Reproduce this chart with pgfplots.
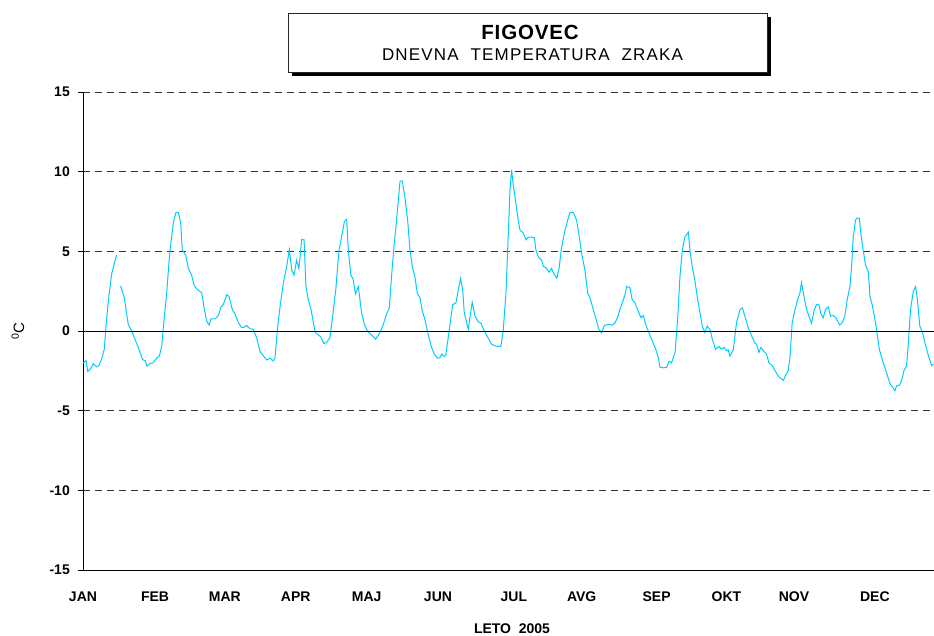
\documentclass[border=0pt]{standalone}
\usepackage{fontspec}
\setmainfont{Liberation Sans}
\usepackage{pgfplots}
\pgfplotsset{compat=1.18}
\definecolor{linecyan}{RGB}{0,204,255}
\begin{document}
\begin{tikzpicture}
\begin{axis}[
  at={(0,0)}, anchor=south west,
  scale only axis, width=851pt, height=478pt,
  xmin=0.57, xmax=366, ymin=-15, ymax=15,
  axis lines*=left,
  axis line style={black, line width=0.8pt},
  ytick={-15,-10,...,15},
  xtick={0.57,31.5,61.5,91.9,122.4,153,185.6,214.7,246.9,276.9,305.9,340.6},
  xticklabels={JAN,FEB,MAR,APR,MAJ,JUN,JUL,AVG,SEP,OKT,NOV,DEC},
  x tick style={draw=none},
  y tick style={black, line width=0.8pt},
  tick align=outside, major tick length=5pt,
  ymajorgrids,
  grid style={black!80, line width=0.8pt, dash pattern=on 7pt off 5pt},
  /pgf/number format/assume math mode=true,
  ticklabel style={font=\fontsize{14}{16}\selectfont\bfseries},
  xticklabel style={anchor=center, yshift=-22pt},
  yticklabel style={anchor=east, inner sep=0pt, xshift=-8pt},
  clip=false,
]
\addplot[color=linecyan, line width=1pt, unbounded coords=jump] coordinates {
(0.7,-2.0)(1.9,-1.86)(2.6,-2.54)(3.6,-2.42)(5.0,-2.05)(6.4,-2.25)(7.4,-2.17)(8.6,-1.76)(9.7,-1.14)(10.7,0.72)(11.5,1.96)(12.9,3.6)(14.0,4.22)(15.0,4.77)
(15.8,nan)
(16.7,2.83)(18.2,2.17)(20.0,0.41)(21.5,0)(22.9,-0.52)(24.3,-1.03)(26.2,-1.8)(27.2,-1.86)(28.1,-2.21)(29.3,-2.05)(30.5,-2.02)(32.2,-1.71)(33.4,-1.55)(34.4,-0.93)(35.1,0.31)(36.5,2.38)(37.9,5.06)(39.4,6.82)(40.5,7.44)(41.5,7.44)(42.5,6.82)(43.2,5.1)(44.7,4.75)(45.8,3.93)(47.2,3.51)(48.4,2.83)(49.8,2.58)(51.5,2.42)(52.7,1.34)(53.7,0.62)(54.7,0.37)(55.5,0.76)(57.3,0.76)(58.7,0.97)(59.8,1.51)(60.8,1.65)(62.3,2.27)(63.3,2.17)(64.7,1.34)(65.8,1.09)
(67.3,0.52)(68.7,0.21)(69.4,0.21)(70.8,0.35)(72.3,0.14)(73.7,0.1)(75.1,-0.41)(76.6,-1.3)(78.0,-1.55)(79.4,-1.82)(80.9,-1.71)(82.3,-1.88)(83.0,-1.69)(84.2,0.31)(85.2,1.55)(86.6,3.0)(88.0,4.03)(89.2,5.1)(90.2,3.82)(91.2,3.51)(92.3,4.44)(93.3,3.93)(94.5,5.74)(95.5,5.72)(96.3,2.79)(97.3,1.96)(98.5,1.34)(100.2,-0.06)(101.6,-0.25)(102.6,-0.35)(104.0,-0.79)(105.2,-0.72)(106.6,-0.41)(107.6,0.72)(109.1,2.58)(110.5,5.06)(111.6,5.89)(112.8,6.86)(113.8,7.02)(114.5,5.06)(115.6,3.51)(116.6,3.24)(117.6,2.33)(118.8,2.79)(120.2,1.14)(121.4,0.41)(122.8,-0.02)(124.5,-0.25)(126.2,-0.52)
(128.1,-0.1)(129.5,0.41)(131.0,1.09)(132.1,1.45)(133.1,3.51)(134.1,5.27)(135.2,6.92)(136.7,9.4)(137.7,9.4)(138.8,8.37)(140.0,6.92)(141.0,5.06)(142.0,4.03)(143.1,3.41)(144.1,2.38)(145.3,2.07)(146.3,1.24)(147.4,0.72)(148.6,-0.1)(150.0,-0.93)(151.4,-1.45)(152.8,-1.71)(153.9,-1.65)(154.6,-1.45)(155.6,-1.59)(156.3,-1.55)(157.7,-0.1)(159.3,1.65)(160.7,1.76)(161.7,2.58)(162.7,3.31)(163.6,2.58)(164.3,1.14)(166.0,0.1)(166.7,0.83)(167.7,1.8)(168.9,0.93)(170.3,0.58)(171.5,0.48)(172.9,0)(174.6,-0.45)(176.0,-0.83)(177.5,-0.93)(178.9,-0.97)(180.0,-0.97)(181.0,0)(182.2,2.38)(183.2,6.1)(183.9,8.78)(184.6,10.12)(185.3,9.19)(186.5,7.95)(187.5,6.92)(188.2,6.34)(189.3,6.2)(189.9,6.05)(190.8,5.72)(191.8,5.89)(193.2,5.89)(194.4,5.85)
(195.1,5.06)(196.1,4.65)(197.5,4.44)(198.2,4.07)(199.7,3.93)(200.7,3.68)(201.8,3.93)(202.5,3.66)(204.0,3.31)(205.0,3.93)(206.1,5.27)(207.5,6.3)(209.0,7.11)(209.7,7.44)(211.1,7.44)(212.5,6.96)(213.7,5.89)(214.7,4.86)(216.1,3.82)(217.3,2.38)(218.3,2.07)(219.7,1.34)(221.1,0.62)(222.1,0.1)(223.3,-0.1)(224.4,0.35)(226.1,0.41)(227.9,0.37)(229.0,0.52)(230.1,0.83)(231.1,1.34)(232.6,1.96)(233.3,2.27)(234.0,2.79)(235.4,2.73)(236.4,1.96)(237.6,1.76)(239.0,1.24)(240.2,0.83)(241.2,0.97)(242.2,0.41)(243.3,0)(244.7,-0.52)(246.5,-1.14)(247.6,-1.65)(248.3,-2.27)(249.7,-2.31)(251.2,-2.29)(252.2,-1.9)(253.3,-2.0)(254.3,-1.55)
(254.8,-1.34)(255.9,0.72)(256.9,3.41)(257.9,5.06)(259.0,5.89)(260.5,6.2)(261.2,5.06)(262.2,4.03)(263.3,3.2)(264.3,2.17)(265.5,1.14)(266.5,0.31)(267.6,-0.1)(268.6,0.31)(269.8,0.1)(270.8,-0.52)(272.2,-1.14)(273.6,-0.97)(274.8,-1.14)(275.8,-1.03)(276.9,-1.24)(277.6,-1.18)(278.4,-1.59)(279.8,-1.18)(281.2,0.52)(282.7,1.34)(283.7,1.45)(284.8,0.93)(286.2,0.21)(287.7,-0.31)(289.1,-0.76)(289.8,-0.83)(290.8,-1.34)(291.7,-1.03)(292.7,-1.24)(294.1,-1.45)(295.1,-2.0)(296.5,-2.17)(297.7,-2.48)(299.4,-2.89)(300.5,-3.0)(301.3,-3.1)(302.3,-2.79)(303.4,-2.48)(304.1,-1.76)(305.1,0.52)(306.3,1.34)(307.4,1.96)(308.4,2.38)(309.1,3.04)(309.9,2.38)(311.3,1.34)(312.3,0.93)(313.4,0.48)(314.6,1.34)(315.6,1.65)(316.6,1.65)(317.4,1.09)(318.4,0.83)(319.4,1.34)(320.6,1.51)(321.6,0.93)(322.7,0.97)
(323.9,0.83)(324.9,0.52)(325.6,0.37)(326.6,0.52)(327.7,0.93)(328.7,1.96)(329.9,2.79)(330.6,4.03)(331.3,5.89)(332.3,6.96)(333.0,7.09)(333.9,7.09)(334.6,6.1)(335.6,5.06)(336.6,4.13)(337.8,3.72)(338.5,2.17)(339.6,1.55)(341.1,0.31)(342.5,-1.14)(343.9,-1.86)(345.3,-2.48)(347.1,-3.31)(348.2,-3.51)(349.2,-3.76)(349.9,-3.45)(351.1,-3.41)(352.1,-3.1)(353.1,-2.48)(354.2,-2.21)(354.9,-0.93)(355.9,1.34)(357.1,2.48)(358.1,2.79)(358.9,1.96)(359.9,0.31)(361.1,-0.1)(362.1,-0.76)(363.6,-1.55)(365.0,-2.17)(365.9,-2.07)
};
\draw[black, line width=0.9pt] (axis cs:0.57,0) -- (axis cs:366,0);
\end{axis}
% title box with shadow
\fill[black] (209pt,494pt) rectangle (688pt,553pt);
\filldraw[fill=white, draw=black!85, line width=0.8pt] (205pt,498pt) rectangle (684pt,557pt);
\node[anchor=center, inner sep=0pt, font=\fontsize{20.5}{22}\selectfont\bfseries\addfontfeatures{LetterSpace=4}] at (447pt,538pt) {FIGOVEC};
\node[anchor=center, inner sep=0pt, font=\fontsize{17}{19}\selectfont\addfontfeatures{LetterSpace=7}] at (449.5pt,515.5pt) {DNEVNA\ \ TEMPERATURA\ \ ZRAKA};
% axis labels
\node[anchor=center, inner sep=0pt, font=\fontsize{14}{16}\selectfont\bfseries] at (429pt,-58.5pt) {LETO\ \ 2005};
\node[anchor=center, inner sep=0pt, rotate=90, font=\fontsize{15}{17}\selectfont] at (-65pt,239pt) {\textsuperscript{0}C};
\pgfresetboundingbox
\path[use as bounding box] (-83pt,-65pt) rectangle (851pt,570pt);
\end{tikzpicture}
\end{document}
